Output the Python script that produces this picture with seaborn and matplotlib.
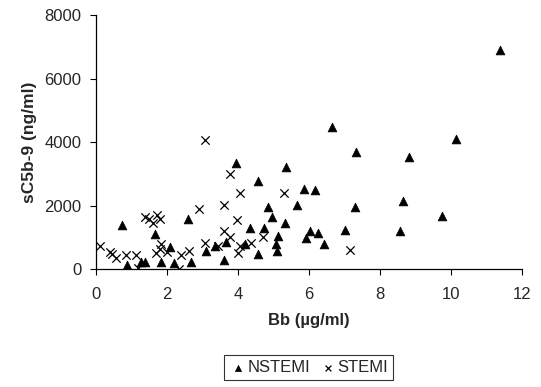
import numpy as np
import pandas as pd
import matplotlib
matplotlib.use("Agg")
import matplotlib.pyplot as plt
import seaborn as sns

# Bb (µg/ml) and sC5b-9 (ng/ml) per patient group
nstemi_bb = [0.74, 0.87, 1.27, 1.38, 1.66, 1.84, 2.09, 2.21, 2.58, 2.68,
             3.11, 3.36, 3.66, 3.60, 3.95, 4.21, 4.33, 4.56, 4.56, 4.73,
             4.84, 4.95, 5.13, 5.08, 5.10, 5.35, 5.32, 5.85, 5.66, 6.18,
             6.03, 5.91, 6.25, 6.42, 6.64, 7.32, 7.29, 7.01, 10.14, 8.82,
             8.66, 9.74, 8.57, 11.39]
nstemi_sc5b9 = [1395, 135, 239, 239, 1102, 239, 712, 189, 1575, 239,
                586, 734, 869, 293, 3357, 787, 1291, 472, 2791, 1291,
                1972, 1638, 1049, 787, 586, 3213, 1468, 2520, 2016, 2498,
                1206, 976, 1134, 787, 4482, 3694, 1972, 1238, 4094, 3547,
                2161, 1679, 1216, 6907]

stemi_bb = [0.11, 0.40, 0.44, 0.56, 0.84, 1.13, 1.19, 1.38, 1.50, 1.62,
            1.71, 1.81, 1.84, 1.69, 1.81, 2.00, 2.34, 2.40, 2.61, 2.89,
            3.08, 3.08, 3.45, 3.62, 3.62, 3.77, 3.79, 3.97, 4.07, 4.07,
            3.99, 4.37, 4.70, 5.29, 7.16]
stemi_sc5b9 = [734, 554, 482, 365, 441, 441, 50, 1638, 1575, 1449,
               1710, 1575, 787, 523, 649, 545, 15, 450, 586, 1890,
               4072, 819, 734, 2025, 1206, 2992, 1008, 1553, 2413, 734,
               523, 819, 1008, 2413, 608]

groups = ["NSTEMI", "STEMI"]
x_ticks = [0, 2, 4, 6, 8, 10, 12]
y_ticks = [0, 2000, 4000, 6000, 8000]

df = pd.DataFrame({
    "Bb": nstemi_bb + stemi_bb,
    "sC5b9": nstemi_sc5b9 + stemi_sc5b9,
    "group": [groups[0]] * len(nstemi_bb) + [groups[1]] * len(stemi_bb),
})

sns.set_style("white")
plt.rcParams["font.family"] = ["Liberation Sans", "DejaVu Sans"]

W, H = 541, 387
fig = plt.figure(figsize=(W / 100, H / 100), dpi=100)
ax = fig.add_axes([96 / W, 1 - 269.3 / H, (521.7 - 96) / W, 254 / H])

nst = df[df["group"] == "NSTEMI"]
st = df[df["group"] == "STEMI"]
sns.scatterplot(data=nst, x="Bb", y="sC5b9", marker="^", color="black",
                s=40, edgecolor="black", linewidth=0.5, ax=ax, label="NSTEMI",
                zorder=3)
sns.scatterplot(data=st, x="Bb", y="sC5b9", marker="x", color="black",
                s=36, linewidth=0.9, ax=ax, label="STEMI", zorder=3)

ax.set_xlim(0, 12)
ax.set_ylim(0, 8000)
ax.set_xticks(x_ticks)
ax.set_yticks(y_ticks)
ax.tick_params(axis="both", direction="out", length=4.5, width=0.8,
               color="black", labelsize=12, left=True, bottom=True)
ax.tick_params(axis="x", pad=8)
ax.tick_params(axis="y", pad=6)
for side in ["top", "right"]:
    ax.spines[side].set_visible(False)
for side in ["left", "bottom"]:
    ax.spines[side].set_color("black")
    ax.spines[side].set_linewidth(0.9)

ax.set_xlabel("Bb (µg/ml)", fontsize=12, fontweight="bold", labelpad=8)
ax.set_ylabel("sC5b-9 (ng/ml)", fontsize=12.5, fontweight="bold", labelpad=5)

ax.legend_.remove()
handles, labels = ax.get_legend_handles_labels()
leg = fig.legend(handles, labels, loc="center",
                 bbox_to_anchor=(308.3 / W, 1 - 367.5 / H),
                 ncol=2, frameon=True, fancybox=False, fontsize=12,
                 handletextpad=0.0, columnspacing=0.5, handlelength=1.1,
                 borderpad=0.3, borderaxespad=0, markerscale=0.7)
leg.get_frame().set_edgecolor("black")
leg.get_frame().set_linewidth(0.8)

fig.savefig("out.png", dpi=100)
